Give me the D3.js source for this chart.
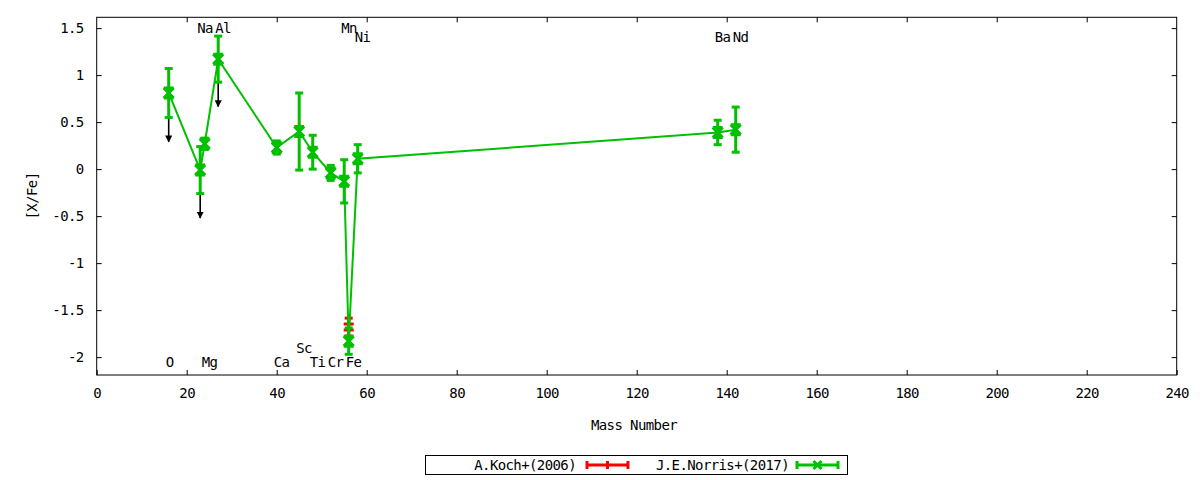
<!DOCTYPE html>
<html>
<head>
<meta charset="utf-8">
<script src="https://cdn.jsdelivr.net/npm/d3@7"></script>
<style>
  body { margin: 0; background: #fff; }
  text { font-family: "DejaVu Sans Mono", monospace; font-size: 14px; letter-spacing: -0.6px; fill: #000; }
</style>
</head>
<body>
<div id="chart-area"></div>
<script>
// data
let norrisMass = [16, 23, 24, 27, 40, 45, 48, 52, 55, 56, 58, 138, 142];
let norrisVal  = [0.81, -0.01, 0.27, 1.17, 0.23, 0.40, 0.18, -0.04, -0.13, -1.83, 0.11, 0.39, 0.42];
let norrisErr  = [0.26, 0.25, 0.06, 0.245, 0.07, 0.41, 0.18, 0.08, 0.23, 0.14, 0.15, 0.13, 0.24];
// upper limits (drawn as arrows)
let limitMass = [16, 23, 27];

let kochMass = [56];
let kochVal  = [-1.68];
let kochErr  = [0.095];

// element labels
let elemNames = ["O", "Na", "Mg", "Al", "Ca", "Sc", "Ti", "Cr", "Mn", "Fe", "Ni", "Ba", "Nd"];
let elemMass  = [16, 23, 24, 27, 40, 45, 48, 52, 55, 56, 58, 138, 142];
let elemLabelY = [-2.05, 1.5, -2.05, 1.5, -2.05, -1.9, -2.05, -2.05, 1.5, -2.05, 1.4, 1.4, 1.4];

let xTicks = d3.range(0, 241, 20);
let yTicks = [-2, -1.5, -1, -0.5, 0, 0.5, 1, 1.5];

// define margins
let margin = {top: 17.3, right: 23.3, bottom: 105, left: 96.7};
let width = 1200 - margin.left - margin.right,
    height = 480 - margin.top - margin.bottom;

let svg = d3.select("#chart-area")
    .append("svg")
    .attr("width", 1200)
    .attr("height", 480);

let g = svg.append("g")
    .attr("transform", "translate(" + margin.left + "," + margin.top + ")");

let x = d3.scaleLinear().domain([0, 240]).range([0, width]);
let y = d3.scaleLinear().domain([-2.19, 1.615]).range([height, 0]);

// axes, ticks pointing inward like gnuplot
let fmt = d => String(d);
g.append("g")
    .attr("transform", "translate(0," + height + ")")
    .call(d3.axisBottom(x).tickValues(xTicks).tickFormat(fmt).tickSize(-5).tickPadding(13))
    .call(a => a.select(".domain").remove());
g.append("g")
    .call(d3.axisTop(x).tickValues(xTicks.slice(1, -1)).tickFormat("").tickSize(-5))
    .call(a => a.select(".domain").remove());
g.append("g")
    .call(d3.axisLeft(y).tickValues(yTicks).tickFormat(fmt).tickSize(-5).tickPadding(13))
    .call(a => a.select(".domain").remove());
g.append("g")
    .attr("transform", "translate(" + width + ",0)")
    .call(d3.axisRight(y).tickValues(yTicks).tickFormat("").tickSize(-5))
    .call(a => a.select(".domain").remove());
g.selectAll(".tick text").style("font-family", "DejaVu Sans Mono").style("font-size", "14px");
g.selectAll(".tick line").attr("stroke", "#000");

g.append("rect")
    .attr("width", width).attr("height", height)
    .attr("fill", "none").attr("stroke", "#000").attr("stroke-width", 1);

// axis titles
svg.append("text")
    .attr("x", 634).attr("y", 425)
    .attr("text-anchor", "middle").attr("dy", "0.35em")
    .text("Mass Number");
svg.append("text")
    .attr("transform", "translate(32,196) rotate(-90)")
    .attr("text-anchor", "middle").attr("dy", "0.35em")
    .text("[X/Fe]");

// element labels
g.selectAll(".elem")
    .data(elemNames)
    .enter().append("text")
    .attr("class", "elem")
    .attr("x", (d, i) => x(elemMass[i]) - 3)
    .attr("y", (d, i) => y(elemLabelY[i]))
    .attr("dy", "0.35em")
    .text(d => d);

// arrows for upper limits
svg.append("defs").append("marker")
    .attr("id", "head")
    .attr("viewBox", "0 0 10 10")
    .attr("refX", 9).attr("refY", 5)
    .attr("markerWidth", 4.5).attr("markerHeight", 4.5)
    .attr("orient", "auto")
    .append("path").attr("d", "M0,0L10,5L0,10Z").attr("fill", "#000");

g.selectAll(".limit")
    .data(limitMass)
    .enter().append("line")
    .attr("class", "limit")
    .attr("x1", d => x(d)).attr("x2", d => x(d))
    .attr("y1", d => { let i = norrisMass.indexOf(d); return y(norrisVal[i] - norrisErr[i]); })
    .attr("y2", d => { let i = norrisMass.indexOf(d); return y(norrisVal[i] - norrisErr[i] - 0.26); })
    .attr("stroke", "#000").attr("stroke-width", 1.6)
    .attr("marker-end", "url(#head)");

function drawSeries(mass, val, err, color, marker) {
    let pts = mass.map((m, i) => ({m: m, v: val[i], e: err[i]}));
    let line = d3.line().x(d => x(d.m)).y(d => y(d.v));
    g.append("path")
        .datum(pts)
        .attr("d", line)
        .attr("fill", "none").attr("stroke", color).attr("stroke-width", 2);

    let eb = g.selectAll(null).data(pts).enter().append("g")
        .attr("stroke", color).attr("stroke-width", 3).attr("fill", "none");
    eb.append("line")
        .attr("x1", d => x(d.m)).attr("x2", d => x(d.m))
        .attr("y1", d => y(d.v + d.e)).attr("y2", d => y(d.v - d.e));
    eb.append("line")
        .attr("x1", d => x(d.m) - 4).attr("x2", d => x(d.m) + 4)
        .attr("y1", d => y(d.v + d.e)).attr("y2", d => y(d.v + d.e));
    eb.append("line")
        .attr("x1", d => x(d.m) - 4).attr("x2", d => x(d.m) + 4)
        .attr("y1", d => y(d.v - d.e)).attr("y2", d => y(d.v - d.e));
    eb.append("path")
        .attr("d", d => marker(x(d.m), y(d.v)));
}

let crossMark = (cx, cy) => "M" + (cx - 5) + "," + (cy - 5) + "L" + (cx + 5) + "," + (cy + 5) +
    "M" + (cx - 5) + "," + (cy + 5) + "L" + (cx + 5) + "," + (cy - 5) +
    "M" + (cx - 5) + "," + (cy - 5) + "L" + (cx + 5) + "," + (cy - 5) +
    "M" + (cx - 5) + "," + (cy + 5) + "L" + (cx + 5) + "," + (cy + 5);
let smallMark = (cx, cy) => "M" + (cx - 5) + "," + (cy - 3) + "L" + (cx + 5) + "," + (cy - 3) +
    "M" + (cx - 5) + "," + (cy + 3) + "L" + (cx + 5) + "," + (cy + 3);

drawSeries(kochMass, kochVal, kochErr, "#ff0000", smallMark);
drawSeries(norrisMass, norrisVal, norrisErr, "#00c000", crossMark);

// legend
let leg = svg.append("g");
leg.append("rect")
    .attr("x", 425.5).attr("y", 455.5).attr("width", 422).attr("height", 19)
    .attr("fill", "none").attr("stroke", "#000");

function legendItem(label, textEnd, x0, x1, color, marker) {
    let cy = 465;
    leg.append("text").attr("x", textEnd).attr("y", cy).attr("dy", "0.35em")
        .attr("text-anchor", "end").text(label);
    let s = leg.append("g").attr("stroke", color).attr("stroke-width", 3).attr("fill", "none");
    s.append("line").attr("x1", x0).attr("x2", x1).attr("y1", cy).attr("y2", cy);
    s.append("line").attr("x1", x0).attr("x2", x0).attr("y1", cy - 4).attr("y2", cy + 4);
    s.append("line").attr("x1", x1).attr("x2", x1).attr("y1", cy - 4).attr("y2", cy + 4);
    s.append("path").attr("d", marker((x0 + x1) / 2, cy));
}
legendItem("A.Koch+(2006)", 576, 587, 628, "#ff0000",
    (cx, cy) => "M" + cx + "," + (cy - 4) + "L" + cx + "," + (cy + 4));
legendItem("J.E.Norris+(2017)", 789, 797, 838, "#00c000",
    (cx, cy) => "M" + (cx - 4) + "," + (cy - 4) + "L" + (cx + 4) + "," + (cy + 4) +
        "M" + (cx - 4) + "," + (cy + 4) + "L" + (cx + 4) + "," + (cy - 4));
</script>
</body>
</html>
